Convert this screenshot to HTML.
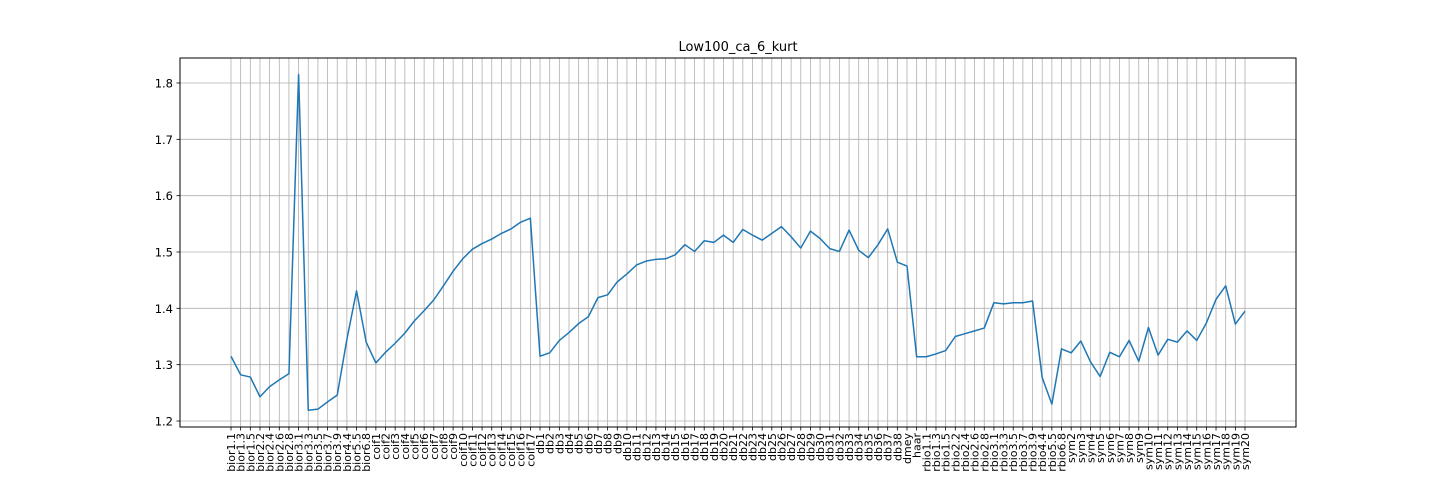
<!DOCTYPE html>
<html><head><meta charset="utf-8"><style>
html,body{margin:0;padding:0;background:#fff;}
svg{display:block;font-family:"DejaVu Sans","Liberation Sans",sans-serif;}
</style></head><body>
<svg id="chart" width="1440" height="480" viewBox="0 0 1440 480">
<rect x="0" y="0" width="1440" height="480" fill="#fff"/>
<text x="738" y="51" text-anchor="middle" font-size="13" fill="#000">Low100_ca_6_kurt</text>
<g id="grid"></g>
<g id="yticks"></g>
<g id="xticks"></g>
<polyline id="line" fill="none" stroke="#1f77b4" stroke-width="1.5" stroke-linejoin="round"/>
<rect x="180" y="58" width="1116" height="369" fill="none" stroke="#000" stroke-width="1"/>
</svg>
<script>
const categories = ["bior1.1","bior1.3","bior1.5","bior2.2","bior2.4","bior2.6","bior2.8","bior3.1","bior3.3","bior3.5","bior3.7","bior3.9","bior4.4","bior5.5","bior6.8",
"coif1","coif2","coif3","coif4","coif5","coif6","coif7","coif8","coif9","coif10","coif11","coif12","coif13","coif14","coif15","coif16","coif17",
"db1","db2","db3","db4","db5","db6","db7","db8","db9","db10","db11","db12","db13","db14","db15","db16","db17","db18","db19","db20","db21","db22","db23","db24","db25","db26","db27","db28","db29","db30","db31","db32","db33","db34","db35","db36","db37","db38",
"dmey","haar",
"rbio1.1","rbio1.3","rbio1.5","rbio2.2","rbio2.4","rbio2.6","rbio2.8","rbio3.1","rbio3.3","rbio3.5","rbio3.7","rbio3.9","rbio4.4","rbio5.5","rbio6.8",
"sym2","sym3","sym4","sym5","sym6","sym7","sym8","sym9","sym10","sym11","sym12","sym13","sym14","sym15","sym16","sym17","sym18","sym19","sym20"];
const values = [1.315,1.282,1.278,1.243,1.261,1.273,1.284,1.815,1.219,1.221,1.234,1.246,1.345,1.431,1.340,
1.303,1.322,1.338,1.356,1.378,1.396,1.415,1.440,1.466,1.488,1.505,1.515,1.523,1.533,1.541,1.553,1.560,
1.315,1.321,1.343,1.357,1.373,1.385,1.419,1.424,1.447,1.461,1.477,1.484,1.487,1.488,1.495,1.513,1.501,1.520,1.517,1.530,1.517,1.540,1.530,1.521,1.533,1.545,1.527,1.507,1.537,1.524,1.506,1.501,1.539,1.503,1.490,1.513,1.541,1.482,
1.475,1.314,
1.314,1.319,1.325,1.350,1.355,1.360,1.365,1.410,1.408,1.410,1.410,1.413,1.277,1.230,1.328,
1.321,1.342,1.305,1.279,1.322,1.314,1.343,1.306,1.366,1.317,1.345,1.340,1.360,1.343,1.374,1.416,1.440,1.372,1.395];
const yTicks = [1.2,1.3,1.4,1.5,1.6,1.7,1.8];
const yTickLabels = ["1.2","1.3","1.4","1.5","1.6","1.7","1.8"];

const NS="http://www.w3.org/2000/svg";
const X0=231, X1=1245;
function xScale(i){return X0+(X1-X0)*i/(categories.length-1);}
function yScale(v){return 421-(v-1.2)*(421-83)/0.6;}
const grid=document.getElementById('grid'), yt=document.getElementById('yticks'), xt=document.getElementById('xticks');
function mk(tag,attrs,parent){const e=document.createElementNS(NS,tag);for(const k in attrs)e.setAttribute(k,attrs[k]);parent.appendChild(e);return e;}
yTicks.forEach((v,i)=>{
  const y=yScale(v);
  const g=mk('line',{x1:180,x2:1296,y1:y,y2:y,stroke:'#b0b0b0','stroke-width':0.8},grid);
  
  
  const t=mk('line',{x1:176.5,x2:180,y1:y,y2:y,stroke:'#000','stroke-width':0.8},yt);
  
  
  const l=mk('text',{x:173,y:y+4.5,'text-anchor':'end','font-size':'11.5',fill:'#000'},yt);
  l.textContent=yTickLabels[i];
  
  
});
categories.forEach((c,i)=>{
  const x=xScale(i);
  const g=mk('line',{x1:x,x2:x,y1:58,y2:427,stroke:'#b0b0b0','stroke-width':0.8},grid);
  
  
  const t=mk('line',{x1:x,x2:x,y1:427,y2:430.5,stroke:'#000','stroke-width':0.8},xt);
  
  
  const l=mk('text',{x:0,y:0,'text-anchor':'end','font-size':'11',fill:'#000',transform:`translate(${x+4},433) rotate(-90)`},xt);
  l.textContent=c;
  
  
});
document.getElementById('line').setAttribute('points',values.map((v,i)=>xScale(i).toFixed(2)+','+yScale(v).toFixed(2)).join(' '));
</script>
</body></html>
